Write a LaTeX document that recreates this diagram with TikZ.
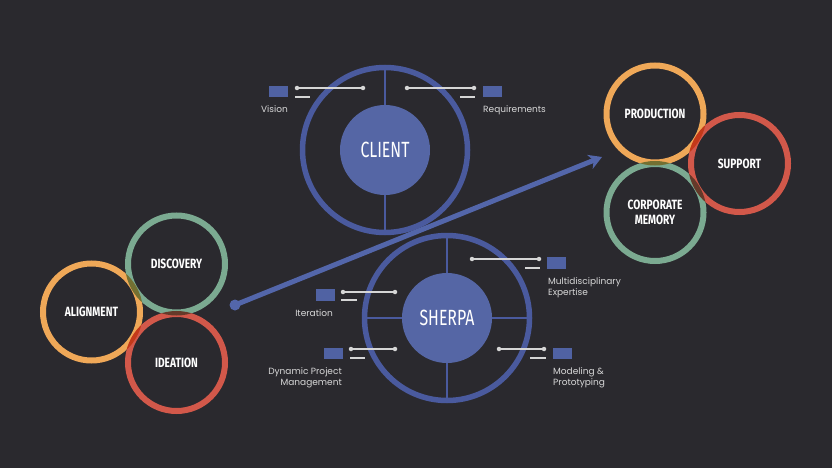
\documentclass[tikz,border=0pt]{standalone}
\usepackage{fontspec}
\setmainfont{Poppins}
\newfontfamily\headfont[FakeStretch=0.72]{Fira Sans}
\newfontfamily\tagfont[FakeStretch=0.76]{Fira Sans}
\usetikzlibrary{arrows.meta}

\definecolor{backdrop}{HTML}{2A292E}
\definecolor{ringblue}{HTML}{4A5A9E}
\definecolor{hubblue}{HTML}{5566A5}
\definecolor{tagblue}{HTML}{5062A3}
\definecolor{arrowblue}{HTML}{5366AA}
\definecolor{ringorange}{HTML}{EFA858}
\definecolor{ringgreen}{HTML}{7BAA91}
\definecolor{ringred}{HTML}{D2584A}
\definecolor{leadgray}{HTML}{D6D6D6}
\definecolor{labelgray}{HTML}{D8D8D8}

\tikzset{
  colring/.style={circle, draw=#1, line width=6pt, minimum size=97pt, inner sep=0pt,
    outer sep=0pt, text=white, align=center,
    font=\tagfont\bfseries\fontsize{13.4}{14.5}\selectfont},
  bluering/.style={circle, draw=ringblue, line width=5.5pt, minimum size=165pt,
    inner sep=0pt, outer sep=0pt},
  hub/.style={circle, fill=hubblue, minimum size=90pt, inner sep=0pt, outer sep=0pt,
    text=white, font=\headfont\fontsize{22}{24}\selectfont},
  spoke/.style={draw=ringblue, line width=2.5pt},
  tag/.style={fill=tagblue, minimum width=19pt, minimum height=11.5pt, inner sep=0pt},
  pin/.style={circle, fill=leadgray, minimum size=4.5pt, inner sep=0pt},
  lead/.style={draw=leadgray, line width=1.4pt},
  caption/.style={text=labelgray, inner sep=0pt, font=\fontsize{9}{11}\selectfont},
  flow/.style={draw=arrowblue, line width=5pt,
    -{Stealth[length=13pt,width=15pt,inset=4pt]}},
}

\begin{document}
\begin{tikzpicture}[x=1pt,y=-1pt]
    \fill[backdrop] (0,0) rectangle (832,468);
    \useasboundingbox (0,0) rectangle (832,468);

    \begin{scope}[transparency group]
        \node[colring=ringorange] (alignment) at (91.5,312) {ALIGNMENT};
        \begin{scope}[blend mode=multiply]
            \node[colring=ringgreen] (discovery) at (176.5,264) {DISCOVERY};
            \node[colring=ringred] (ideation) at (176.5,362.5) {IDEATION};
        \end{scope}
    \end{scope}

    \begin{scope}[transparency group]
        \node[colring=ringorange] (production) at (655,114) {PRODUCTION};
        \begin{scope}[blend mode=multiply]
            \node[colring=ringred] (support) at (739.5,163.5) {SUPPORT};
            \node[colring=ringgreen] (memory) at (655,212.5) {CORPORATE\\MEMORY};
        \end{scope}
    \end{scope}

    \node[bluering] (clientring) at (385,150) {};
    \node[hub] (client) at (385,150) {CLIENT};
    \draw[spoke] (client.north) -- (clientring.north);
    \draw[spoke] (client.south) -- (clientring.south);

    \node[bluering] (sherparing) at (447,318) {};
    \node[hub] (sherpa) at (447,318) {SHERPA};
    \draw[spoke] (sherpa.north) -- (sherparing.north);
    \draw[spoke] (sherpa.south) -- (sherparing.south);
    \draw[spoke] (sherpa.east) -- (sherparing.east);
    \draw[spoke] (sherpa.west) -- (sherparing.west);

    \node[circle, fill=arrowblue, minimum size=11pt, inner sep=0pt] (start) at (235,305) {};
    \coordinate (tip) at (602,157);
    \draw[flow] (start.center) -- (tip);

    \node[tag] (visiontag) at (278.5,91.5) {};
    \node[pin] (vision1) at (297,88) {};
    \node[pin] (vision2) at (363,88) {};
    \draw[lead] (vision1) -- (vision2);
    \draw[lead] (295,97) -- (310,97);
    \node[caption, anchor=north east] (vision) at (288,105.5) {Vision};

    \node[tag] (reqtag) at (492,91.5) {};
    \node[pin] (req1) at (407,88) {};
    \node[pin] (req2) at (474,88) {};
    \draw[lead] (req1) -- (req2);
    \draw[lead] (460,97) -- (475,97);
    \node[caption, anchor=north west] (req) at (483,105.5) {Requirements};

    \node[tag] (experttag) at (556.5,263) {};
    \node[pin] (expert1) at (472,259) {};
    \node[pin] (expert2) at (539,259) {};
    \draw[lead] (expert1) -- (expert2);
    \draw[lead] (525,268) -- (540,268);
    \node[caption, anchor=north west, align=left] (expert) at (548,277.5)
        {Multidisciplinary\\Expertise};

    \node[tag] (itertag) at (325,295) {};
    \node[pin] (iter1) at (343,292) {};
    \node[pin] (iter2) at (395,292) {};
    \draw[lead] (iter1) -- (iter2);
    \draw[lead] (341,300) -- (357,300);
    \node[caption, anchor=north east] (iter) at (333,309.5) {Iteration};

    \node[tag] (dyntag) at (333.5,353.5) {};
    \node[pin] (dyn1) at (351,349) {};
    \node[pin] (dyn2) at (395,349) {};
    \draw[lead] (dyn1) -- (dyn2);
    \draw[lead] (350,358) -- (365,358);
    \node[caption, anchor=north east, align=right] (dyn) at (342,367.5)
        {Dynamic Project\\Management};

    \node[tag] (modeltag) at (562,353.5) {};
    \node[pin] (model1) at (499,349) {};
    \node[pin] (model2) at (544,349) {};
    \draw[lead] (model1) -- (model2);
    \draw[lead] (530,358) -- (546,358);
    \node[caption, anchor=north west, align=left] (model) at (553,367.5)
        {Modeling \&\\Prototyping};
\end{tikzpicture}
\end{document}
